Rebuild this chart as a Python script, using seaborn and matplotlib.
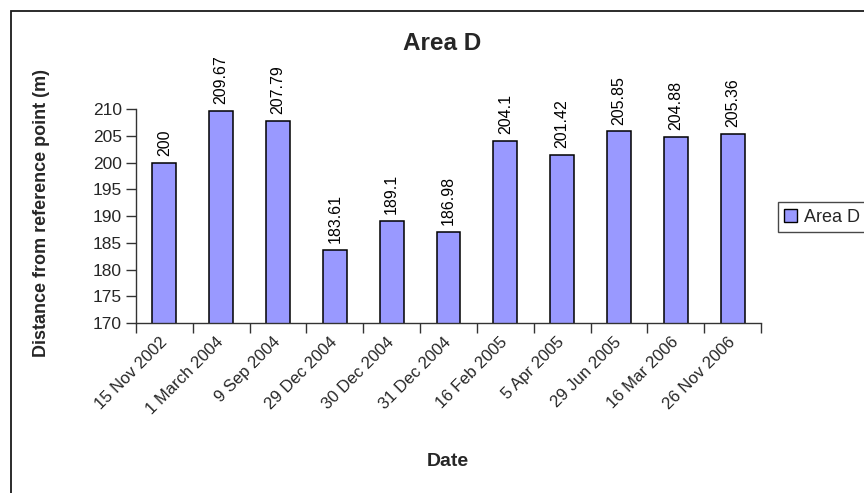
import matplotlib
matplotlib.use("Agg")
import matplotlib.pyplot as plt
from matplotlib.patches import Rectangle, Patch
import seaborn as sns
import pandas as pd

# Survey dates and measured distances for Area D
dates = ["15 Nov 2002", "1 March 2004", "9 Sep 2004", "29 Dec 2004", "30 Dec 2004",
         "31 Dec 2004", "16 Feb 2005", "5 Apr 2005", "29 Jun 2005", "16 Mar 2006",
         "26 Nov 2006"]
distances = [200, 209.67, 207.79, 183.61, 189.1, 186.98, 204.1, 201.42, 205.85,
             204.88, 205.36]
value_labels = ["200", "209.67", "207.79", "183.61", "189.1", "186.98", "204.1",
                "201.42", "205.85", "204.88", "205.36"]
y_ticks = [170, 175, 180, 185, 190, 195, 200, 205, 210]
series_name = "Area D"

sns.set_theme(style="white")
plt.rcParams["font.family"] = ["Liberation Sans", "DejaVu Sans"]

df = pd.DataFrame({"Date": dates, "Distance": distances})

fig = plt.figure(figsize=(8.64, 4.93), dpi=100)
fig.patch.set_facecolor("white")

# Chart-area border
fig.patches.append(Rectangle((11 / 864, -0.2), 1.2, 1 - 11 / 493 + 0.2,
                             transform=fig.transFigure, fill=False,
                             edgecolor="#1a1a1a", linewidth=1.3, clip_on=False))

ax = fig.add_axes([136 / 864, 1 - 323 / 493, 625 / 864, 213.7 / 493])
ax.set_facecolor("none")

sns.barplot(data=df, x="Date", y="Distance", color="#9999FF", saturation=1,
            edgecolor="black", linewidth=1.1, width=0.42, ax=ax)

ax.set_ylim(170, 210)
ax.set_xlim(-0.5, len(dates) - 0.5)
ax.set_yticks(y_ticks)
ax.set_yticklabels([str(t) for t in y_ticks], fontsize=12.5)

# Category labels under the bars, ticks between categories
ax.set_xticks(range(len(dates)))
ax.set_xticklabels(dates, rotation=45, ha="right", va="center",
                   rotation_mode="anchor", fontsize=12)
ax.set_xticks([i - 0.5 for i in range(len(dates) + 1)], minor=True)
ax.tick_params(axis="x", which="major", length=0, pad=12)
ax.tick_params(axis="x", which="minor", length=7, width=1, color="#333333",
               direction="out", bottom=True)
ax.tick_params(axis="y", length=7, width=1, color="#333333", direction="out",
               left=True, pad=3)

for side in ["top", "right"]:
    ax.spines[side].set_visible(False)
for side in ["left", "bottom"]:
    ax.spines[side].set_color("#333333")
    ax.spines[side].set_linewidth(1)

# Value annotations above each bar
for i, (v, txt) in enumerate(zip(distances, value_labels)):
    ax.annotate(txt, (i, v), xytext=(0, 5), textcoords="offset points",
                rotation=90, ha="center", va="bottom", fontsize=11.5,
                color="black", annotation_clip=False)

ax.set_xlabel("")
ax.set_ylabel("")
fig.text(42 / 864, 1 - 213 / 493, "Distance from reference point (m)",
         rotation=90, ha="center", va="center", fontsize=13, fontweight="bold")
fig.text(448 / 864, 1 - 462 / 493, "Date", ha="center", va="center",
         fontsize=14, fontweight="bold")
fig.text(442 / 864, 1 - 44 / 493, "Area D", ha="center", va="center",
         fontsize=17.5, fontweight="bold")

handle = Patch(facecolor="#9999FF", edgecolor="black", linewidth=1)
leg = fig.legend([handle], [series_name], loc="center left",
                 bbox_to_anchor=(778 / 864, 1 - 217 / 493), fontsize=13,
                 frameon=True, fancybox=False, borderpad=0.35,
                 handlelength=0.7, handleheight=0.7, handletextpad=0.4,
                 borderaxespad=0)
leg.get_frame().set_edgecolor("#1a1a1a")
leg.get_frame().set_linewidth(1)

fig.savefig("out.png", dpi=100, facecolor="white")
